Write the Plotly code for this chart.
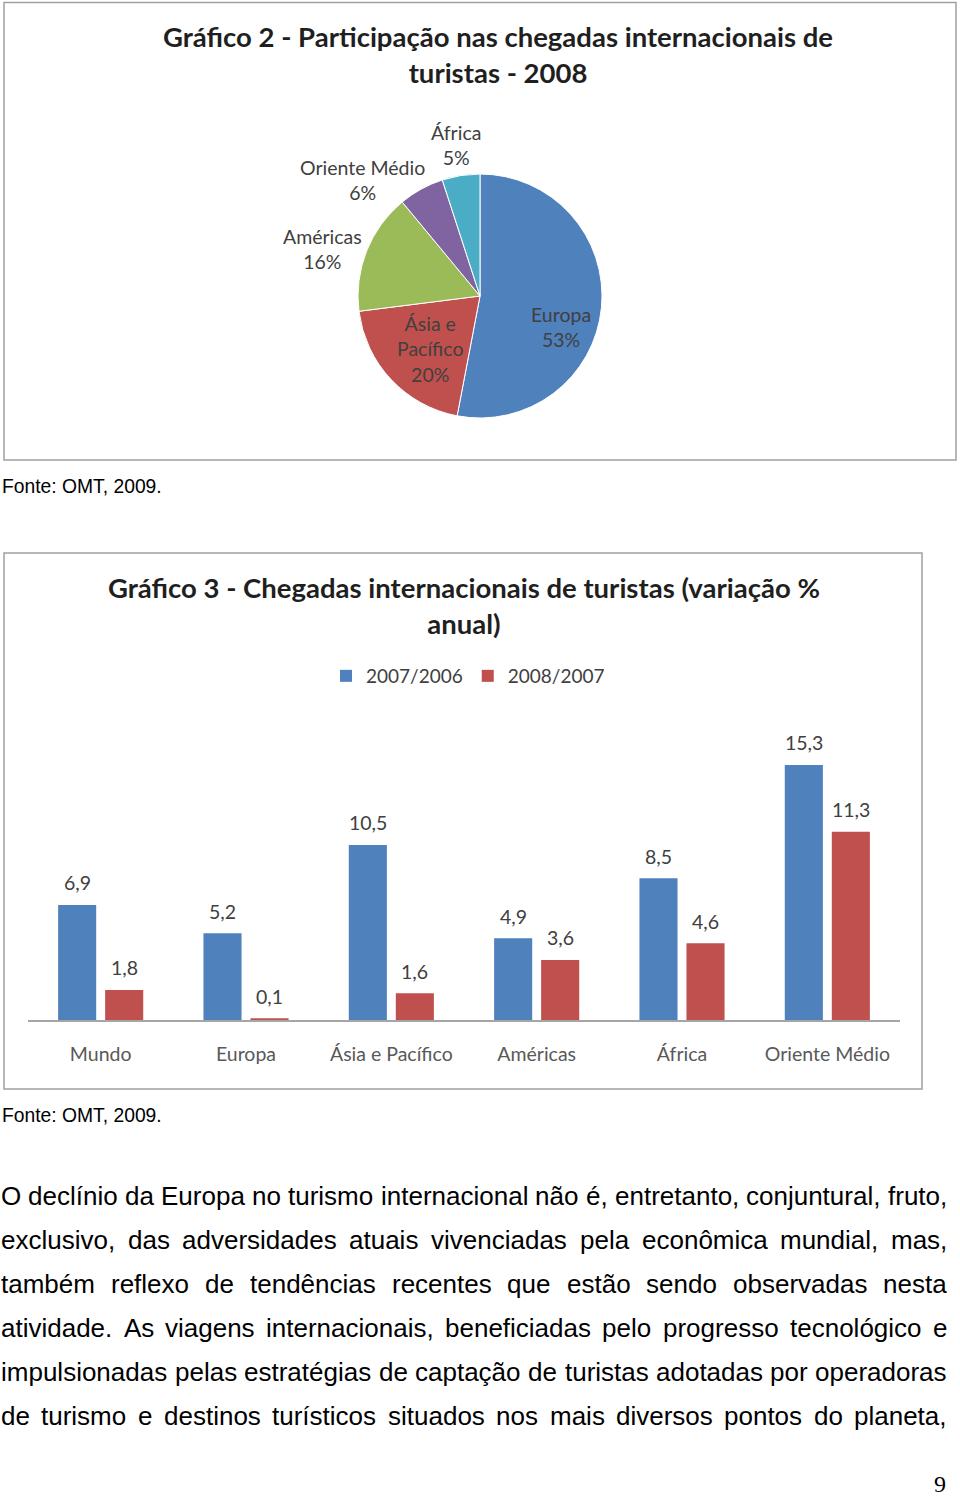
import plotly.graph_objects as go

W, H = 960, 1497

# ---------------- data ----------------
pie_labels = ["Europa", "Ásia e Pacífico", "Américas", "Oriente Médio", "África"]
pie_values = [53, 20, 16, 6, 5]
pie_colors = ["#4F81BD", "#C0504D", "#9BBB59", "#8064A2", "#4BACC6"]

bar_categories = ["Mundo", "Europa", "Ásia e Pacífico", "Américas", "África", "Oriente Médio"]
bar_2007_2006 = [6.9, 5.2, 10.5, 4.9, 8.5, 15.3]
bar_2008_2007 = [1.8, 0.1, 1.6, 3.6, 4.6, 11.3]
series_names = ["2007/2006", "2008/2007"]
series_colors = ["#4F81BD", "#C0504D"]

pie_title = "Gráfico 2 - Participação nas chegadas internacionais de<br>turistas - 2008"
bar_title = "Gráfico 3 - Chegadas internacionais de turistas (variação %<br>anual)"
source_text = "Fonte: OMT, 2009."

body_lines = [
    "O declínio da Europa no turismo internacional não é, entretanto, conjuntural, fruto,",
    "exclusivo, das adversidades atuais vivenciadas pela econômica mundial, mas,",
    "também reflexo de tendências recentes que estão sendo observadas nesta",
    "atividade. As viagens internacionais, beneficiadas pelo progresso tecnológico e",
    "impulsionadas pelas estratégias de captação de turistas adotadas por operadoras",
    "de turismo e destinos turísticos situados nos mais diversos pontos do planeta,",
]
page_number = "9"

# ---------------- helpers ----------------
def xp(px):
    return px / W

def yp(py):
    return 1 - py / H

CHART_FONT = "Lato, Open Sans, sans-serif"
BODY_FONT = "Liberation Sans, Arial, sans-serif"

# Arial advance widths (1/1000 em)
AW = {" ": 278, ",": 278, ".": 278,
      "a": 556, "b": 556, "c": 500, "d": 556, "e": 556, "f": 278, "g": 556, "h": 556,
      "i": 222, "j": 222, "k": 500, "l": 222, "m": 833, "n": 556, "o": 556, "p": 556,
      "q": 556, "r": 333, "s": 500, "t": 278, "u": 556, "v": 500, "w": 722, "x": 500,
      "y": 500, "z": 500,
      "á": 556, "â": 556, "ã": 556, "é": 556, "ê": 556, "í": 278, "ó": 556, "ô": 556,
      "ç": 500, "ú": 556,
      "A": 667, "E": 667, "O": 778}

def word_width(word, size):
    return sum(AW.get(ch, 556) for ch in word) * size / 1000.0

fig = go.Figure()

# ---------------- pie ----------------
fig.add_trace(go.Pie(
    labels=pie_labels, values=pie_values, sort=False, direction="clockwise", rotation=0,
    marker=dict(colors=pie_colors, line=dict(color="white", width=1)),
    textinfo="none", hoverinfo="skip", showlegend=False,
    domain=dict(x=[xp(358), xp(602)], y=[yp(418), yp(174)]),
))

# ---------------- bars ----------------
for name, vals, col in zip(series_names, [bar_2007_2006, bar_2008_2007], series_colors):
    fig.add_trace(go.Bar(
        x=bar_categories, y=vals, name=name, marker=dict(color=col, line=dict(width=0)),
        hoverinfo="skip", xaxis="x", yaxis="y",
    ))

annotations = []

# pie labels
pie_label_pos = {
    "Europa": (561, 327),
    "Ásia e Pacífico": (430, 349),
    "Américas": (322, 249),
    "Oriente Médio": (362, 180),
    "África": (456, 145),
}
for lab, val in zip(pie_labels, pie_values):
    px_, py_ = pie_label_pos[lab]
    txt = lab.replace("Ásia e ", "Ásia e<br>") + "<br>" + f"{val}%"
    annotations.append(dict(
        x=xp(px_), y=yp(py_), xref="paper", yref="paper", text=txt, showarrow=False,
        xanchor="center", yanchor="middle", font=dict(family=CHART_FONT, size=19.5, color="#404040"),
    ))

# titles
def bold_lines(t):
    return "<b>" + t.replace("<br>", "</b><br><b>") + "</b>"

annotations.append(dict(x=xp(498), y=yp(54), xref="paper", yref="paper", text=bold_lines(pie_title),
                        showarrow=False, xanchor="center", yanchor="middle",
                        font=dict(family=CHART_FONT, size=27.5, color="#1F1F1F")))
annotations.append(dict(x=xp(464), y=yp(605.5), xref="paper", yref="paper", text=bold_lines(bar_title),
                        showarrow=False, xanchor="center", yanchor="middle",
                        font=dict(family=CHART_FONT, size=27.5, color="#1F1F1F")))

# bar value labels
for vals, shift in [(bar_2007_2006, -23.5), (bar_2008_2007, 23.5)]:
    for cat, v in zip(bar_categories, vals):
        annotations.append(dict(
            x=cat, y=v, xref="x", yref="y", text=f"{v:.1f}".replace(".", ","), showarrow=False,
            xanchor="center", yanchor="middle", xshift=shift, yshift=22,
            font=dict(family=CHART_FONT, size=19.5, color="#404040"),
        ))

# sources
for sy in (487, 1115):
    annotations.append(dict(x=xp(1.5), y=yp(sy), xref="paper", yref="paper", text=source_text,
                            showarrow=False, xanchor="left", yanchor="middle",
                            borderpad=0, borderwidth=0,
                            font=dict(family=BODY_FONT, size=19.3, color="#000000")))

# body text, justified word by word
BODY_SIZE = 26
LEFT, RIGHT = 1, 947
for k, line in enumerate(body_lines):
    words = line.split(" ")
    widths = [word_width(w_, BODY_SIZE) for w_ in words]
    gap = (RIGHT - LEFT - sum(widths)) / (len(words) - 1)
    x = LEFT
    cy = 1196 + 44 * k
    for w_, ww in zip(words, widths):
        annotations.append(dict(x=xp(x), y=yp(cy), xref="paper", yref="paper", text=w_,
                                showarrow=False, xanchor="left", yanchor="middle",
                                borderpad=0, borderwidth=0,
                                font=dict(family=BODY_FONT, size=BODY_SIZE, color="#000000")))
        x += ww + gap

annotations.append(dict(x=xp(940), y=yp(1484), xref="paper", yref="paper", text=page_number,
                        showarrow=False, xanchor="center", yanchor="middle",
                        font=dict(family="Liberation Serif, Times New Roman, serif", size=24, color="#000000")))

shapes = [
    dict(type="rect", xref="paper", yref="paper", x0=xp(4), x1=xp(956), y0=yp(460), y1=yp(2.5),
         line=dict(color="#A0A0A0", width=1.5), layer="below"),
    dict(type="rect", xref="paper", yref="paper", x0=xp(4), x1=xp(922), y0=yp(1089), y1=yp(553),
         line=dict(color="#A0A0A0", width=1.5), layer="below"),
]

fig.update_layout(
    width=W, height=H, autosize=False,
    margin=dict(l=0, r=0, t=0, b=0),
    paper_bgcolor="white", plot_bgcolor="rgba(0,0,0,0)",
    barmode="group", bargap=0.353, bargroupgap=0.19,
    xaxis=dict(domain=[xp(28), xp(900)], showline=True, linecolor="#A6A6A6", linewidth=1.5,
               showgrid=False, zeroline=False, ticks="", ticklabelstandoff=16,
               tickfont=dict(family=CHART_FONT, size=19.5, color="#595959"), fixedrange=True),
    yaxis=dict(domain=[yp(1020), yp(1020 - 16 * 16.67)], range=[0, 16], visible=False,
               fixedrange=True),
    legend=dict(orientation="h", x=xp(326), y=yp(676), xanchor="left", yanchor="middle",
                font=dict(family=CHART_FONT, size=19, color="#404040"), bgcolor="rgba(0,0,0,0)",
                itemwidth=30, traceorder="normal"),
    annotations=annotations, shapes=shapes,
    showlegend=True,
)

fig.write_html(
    "out.html",
    config={"displayModeBar": False, "staticPlot": True},
    post_script="document.body.style.margin='0px';document.body.style.padding='0px';",
)
